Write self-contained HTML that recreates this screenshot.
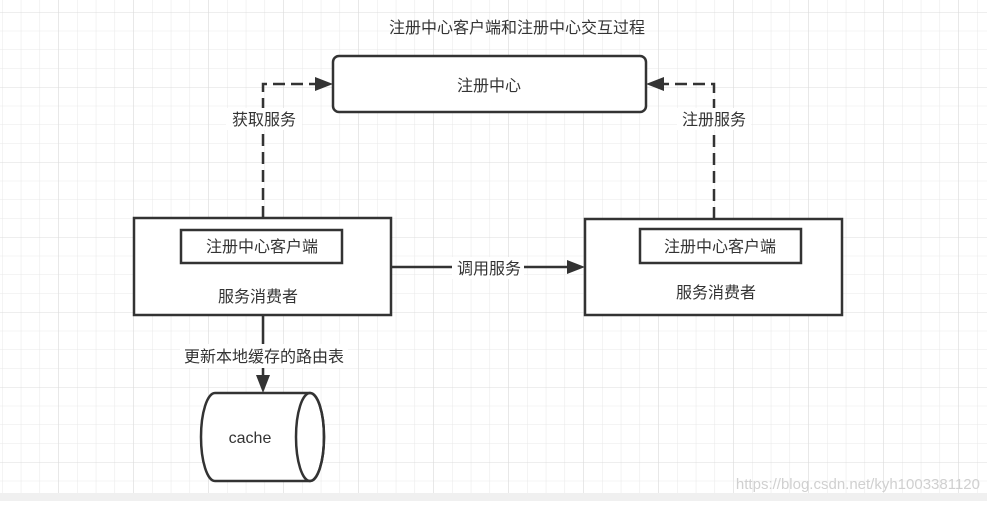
<!DOCTYPE html>
<html><head><meta charset="utf-8"><style>
html,body{margin:0;padding:0;background:#fff}
svg text{font-family:"Liberation Sans","Noto Sans CJK SC",sans-serif;fill:#333;font-size:16px}
</style></head><body>
<svg width="987" height="501" viewBox="0 0 987 501" xmlns="http://www.w3.org/2000/svg">
<defs>
<pattern id="g" x="133.3" y="12" width="18.75" height="18.75" patternUnits="userSpaceOnUse">
<path d="M0 0H18.75M0 0V18.75" stroke="#e8e8e8" stroke-width="1" fill="none"/>
</pattern>
<pattern id="G" x="133.3" y="12" width="75" height="75" patternUnits="userSpaceOnUse">
<path d="M0 0H75M0 0V75" stroke="#dcdcdc" stroke-width="1" fill="none"/>
</pattern>
</defs>
<rect width="987" height="501" fill="url(#g)"/>
<rect width="987" height="501" fill="url(#G)"/>
<rect x="0" y="493" width="987" height="8" fill="#f0f0f0"/>
<text x="517" y="33" text-anchor="middle">注册中心客户端和注册中心交互过程</text>
<rect x="333" y="56" width="313" height="56" rx="6" fill="#fff" stroke="#333" stroke-width="2.5"/>
<text x="489" y="91" text-anchor="middle">注册中心</text>
<g stroke="#333" stroke-width="2.5" fill="none" stroke-dasharray="12,6">
<path d="M263 218V84H316"/>
<path d="M714 219V84H663"/>
</g>
<polygon points="333,84 315,77 315,91" fill="#333"/>
<polygon points="646,84 664,77 664,91" fill="#333"/>
<rect x="226" y="108" width="76" height="22" fill="#fff"/>
<text x="264" y="125" text-anchor="middle">获取服务</text>
<rect x="677" y="108" width="74" height="22" fill="#fff"/>
<text x="714" y="125" text-anchor="middle">注册服务</text>
<rect x="134" y="218" width="257" height="97" fill="#fff" stroke="#333" stroke-width="2.5"/>
<rect x="181" y="230" width="161" height="33" fill="#fff" stroke="#333" stroke-width="2.5"/>
<text x="262" y="252" text-anchor="middle">注册中心客户端</text>
<text x="258" y="302" text-anchor="middle">服务消费者</text>
<rect x="585" y="219" width="257" height="96" fill="#fff" stroke="#333" stroke-width="2.5"/>
<rect x="640" y="229" width="161" height="34" fill="#fff" stroke="#333" stroke-width="2.5"/>
<text x="720" y="252" text-anchor="middle">注册中心客户端</text>
<text x="716" y="298" text-anchor="middle">服务消费者</text>
<path d="M391 267H570" stroke="#333" stroke-width="2.5"/>
<polygon points="585,267 567,260 567,274" fill="#333"/>
<rect x="452" y="257" width="72" height="22" fill="#fff"/>
<text x="489" y="274" text-anchor="middle">调用服务</text>
<path d="M263 315V378" stroke="#333" stroke-width="2.5"/>
<polygon points="263,393 256,375 270,375" fill="#333"/>
<rect x="180" y="344" width="168" height="24" fill="#fff"/>
<text x="264" y="362" text-anchor="middle">更新本地缓存的路由表</text>
<path d="M215 393H310A14 44 0 0 1 310 481H215A14 44 0 0 1 215 393Z" fill="#fff" stroke="#333" stroke-width="2.5"/>
<ellipse cx="310" cy="437" rx="14" ry="44" fill="none" stroke="#333" stroke-width="2.5"/>
<text x="250" y="443" text-anchor="middle">cache</text>
<text x="980" y="489" text-anchor="end" style="fill:#d0d0d0;font-size:15px">https://blog.csdn.net/kyh1003381120</text>
</svg>
</body></html>
